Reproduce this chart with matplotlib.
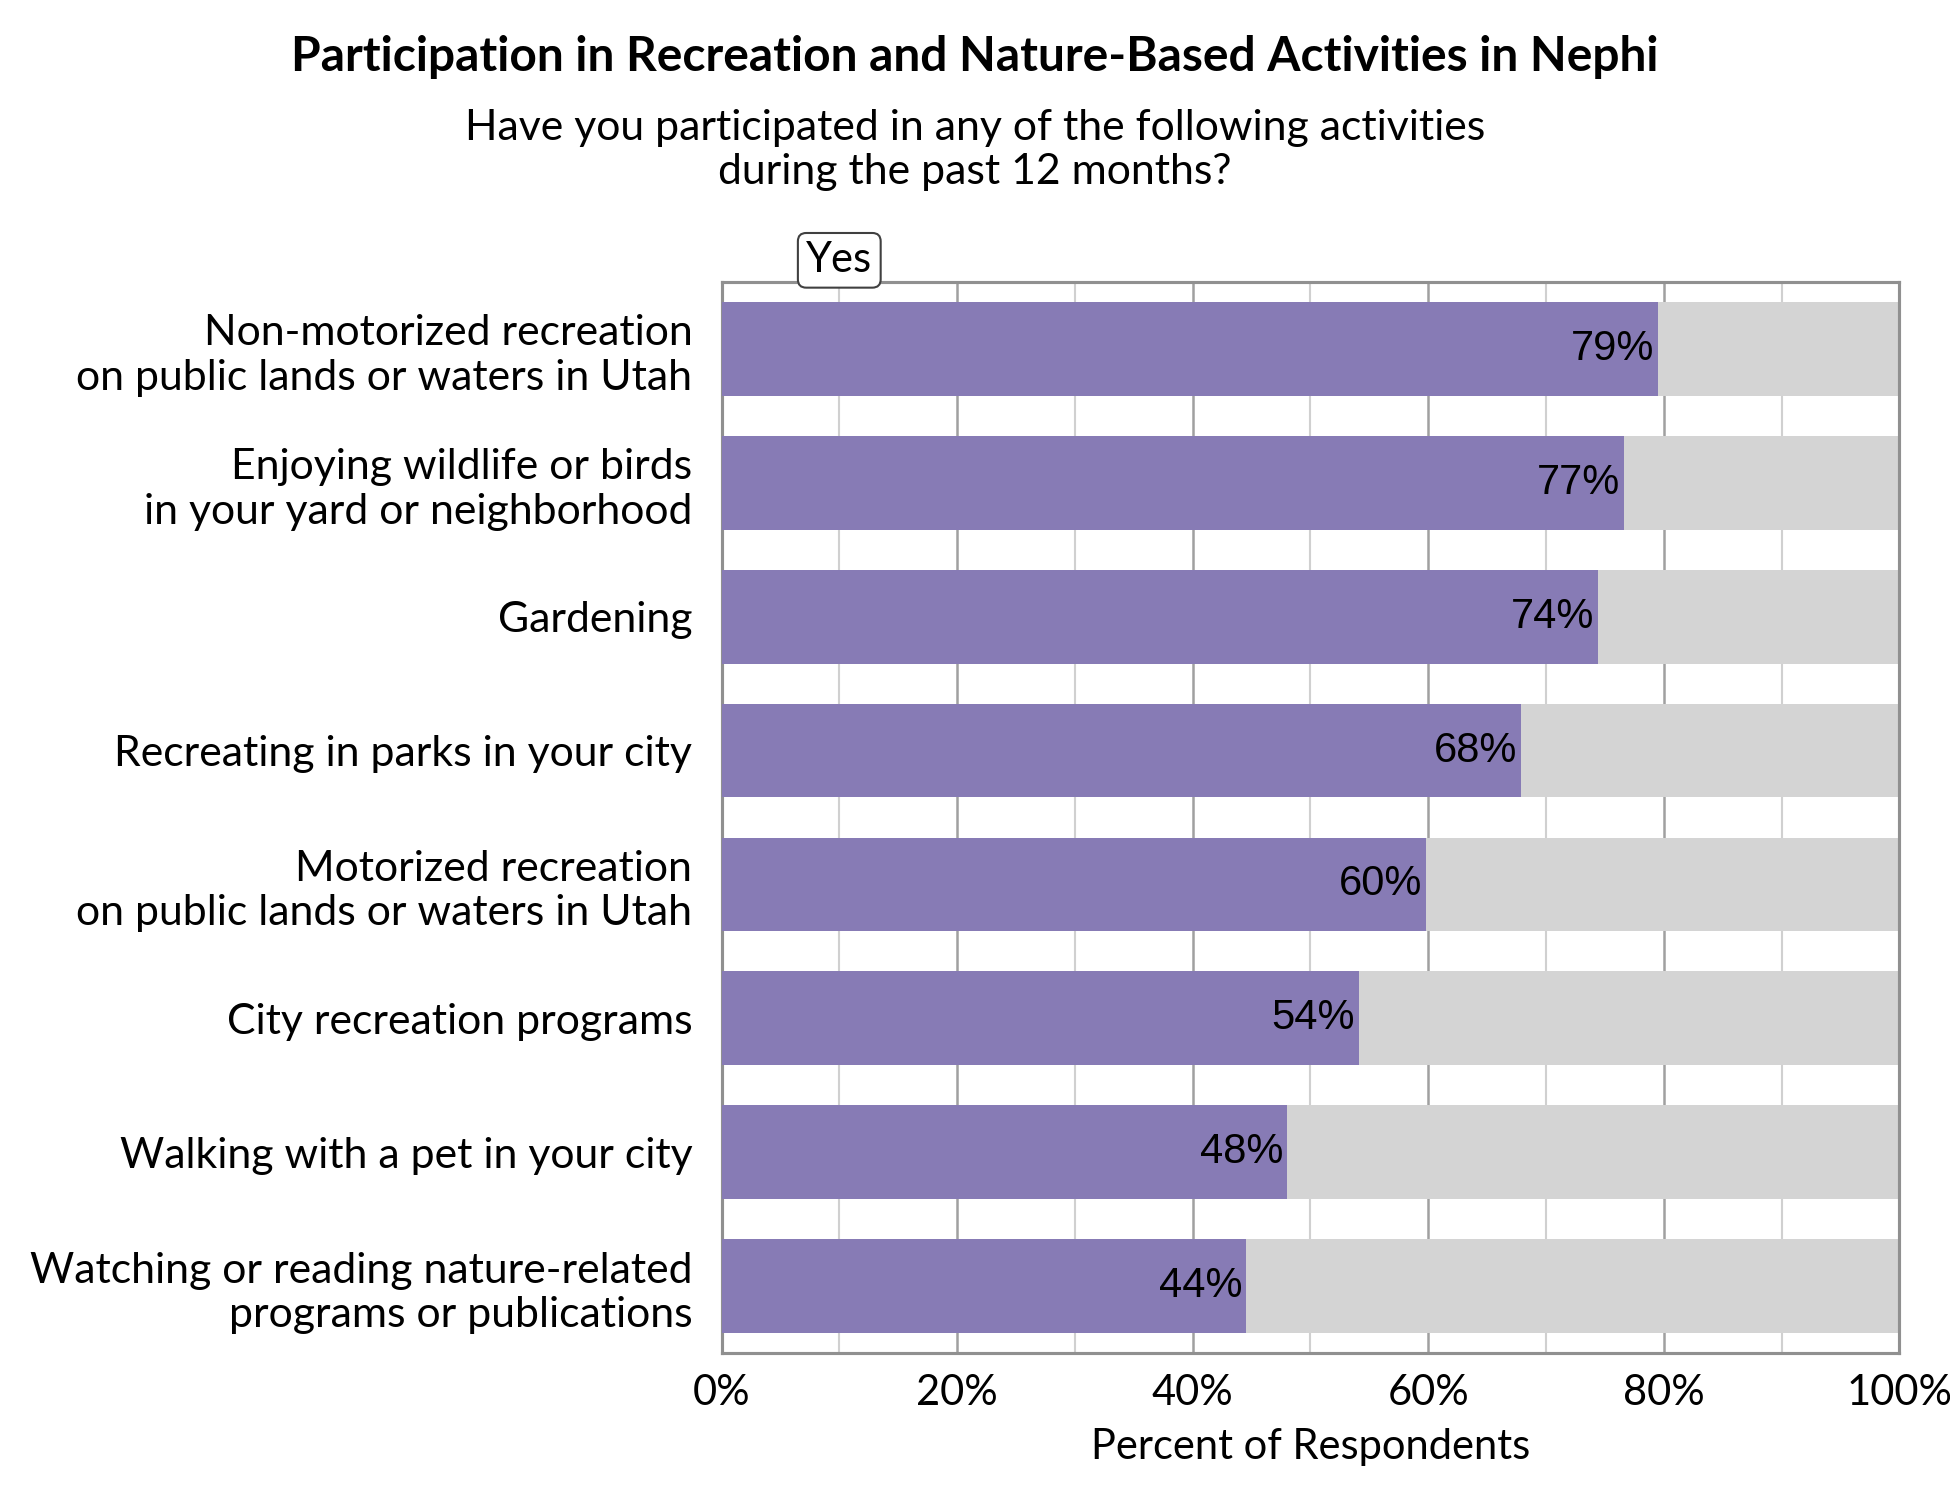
import matplotlib.pyplot as plt
import numpy as np

activities = ["Non-motorized recreation\non public lands or waters in Utah",
              "Enjoying wildlife or birds\nin your yard or neighborhood",
              "Gardening",
              "Recreating in parks in your city",
              "Motorized recreation\non public lands or waters in Utah",
              "City recreation programs",
              "Walking with a pet in your city",
              "Watching or reading nature-related\nprograms or publications"]
yes_pct = [79.5, 76.6, 74.4, 67.9, 59.8, 54.1, 48.0, 44.5]
yes_labels = ["79%", "77%", "74%", "68%", "60%", "54%", "48%", "44%"]

plt.rcParams['font.family'] = ['Lato', 'DejaVu Sans']
fig = plt.figure(figsize=(13, 10), dpi=150)
ax = fig.add_axes([0.37, 0.098, 0.604, 0.714])

y = np.arange(len(activities))
ax.barh(y, [100] * len(y), height=0.7, color='#d4d4d4', zorder=2)
ax.barh(y, yes_pct, height=0.7, color='#877bb5', zorder=3)
for yi, v, lab in zip(y, yes_pct, yes_labels):
    ax.text(v - 0.3, yi, lab, ha='right', va='center', fontsize=20,
            family='Liberation Sans', zorder=4)

ax.set_xlim(0, 100)
ax.set_ylim(len(y) - 0.5, -0.5)
ax.set_yticks(y)
ax.set_yticklabels(activities, fontsize=20.5)
ax.set_xticks(range(0, 101, 20))
ax.set_xticklabels([f"{t}%" for t in range(0, 101, 20)], fontsize=20)
ax.set_xticks(range(10, 100, 20), minor=True)
ax.grid(axis='x', which='major', color='#a0a0a0', lw=1.2, zorder=0)
ax.grid(axis='x', which='minor', color='#d0d0d0', lw=1.0, zorder=0)
ax.tick_params(axis='y', length=0, pad=14)
ax.tick_params(axis='x', which='both', length=0, pad=10)
for s in ax.spines.values():
    s.set_color('#909090')
    s.set_linewidth(1.5)
ax.set_xlabel("Percent of Respondents", fontsize=20, labelpad=8)

ax.text(10, -0.52, "Yes", ha='center', va='bottom', fontsize=20,
        bbox=dict(boxstyle='round,pad=0.2', fc='white', ec='#404040', lw=1))

fig.text(0.5, 0.962, "Participation in Recreation and Nature-Based Activities in Nephi",
         ha='center', va='center', fontsize=23, fontweight='bold')
fig.text(0.5, 0.9, "Have you participated in any of the following activities\nduring the past 12 months?",
         ha='center', va='center', fontsize=20.5, linespacing=1.2)

fig.savefig("out.png", dpi=150)
